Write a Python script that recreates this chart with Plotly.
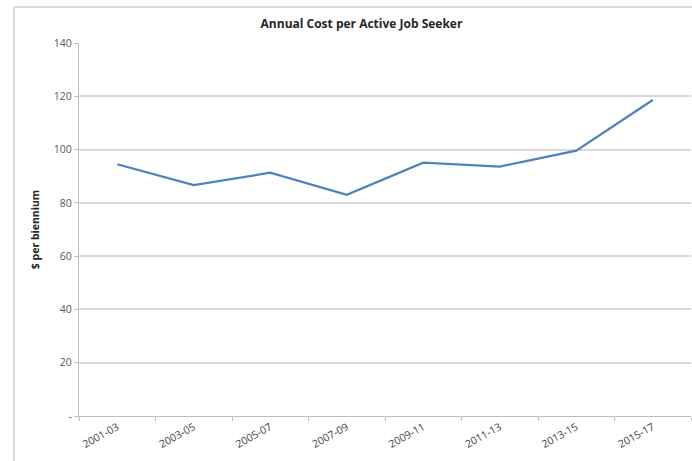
import plotly.graph_objects as go

categories = ["2001-03", "2003-05", "2005-07", "2007-09", "2009-11", "2011-13", "2013-15", "2015-17"]
values = [94.5, 86.7, 91.3, 83.0, 95.1, 93.6, 99.6, 118.6]
y_ticks = [0, 20, 40, 60, 80, 100, 120, 140]
y_tick_labels = ["-", "20", "40", "60", "80", "100", "120", "140"]

W, H = 692, 461
ml, mr, mt, mb = 79, 1, 43, 45
pw, ph = W - ml - mr, H - mt - mb

fig = go.Figure()
fig.add_trace(go.Scatter(
    x=categories, y=values, mode="lines",
    line=dict(color="#4F81BD", width=2.2),
    hoverinfo="skip", showlegend=False,
))

def px_x(p):
    return (p - ml) / pw

def px_y(p):
    return (H - mb - p) / ph

fig.update_layout(
    width=W, height=H,
    margin=dict(l=ml, r=mr, t=mt, b=mb),
    paper_bgcolor="white", plot_bgcolor="white",
    font=dict(family="Open Sans, Liberation Sans, sans-serif", color="#595959", size=10),
    title=dict(
        text="<b>Annual Cost per Active Job Seeker</b>",
        x=px_x(361.5), xanchor="center", xref="paper",
        y=1 - 24 / H, yanchor="middle",
        font=dict(size=12, color="#262626", family="Open Sans, Liberation Sans, sans-serif"),
    ),
    xaxis=dict(
        type="category", range=[-0.5, len(categories) - 0.5],
        tickson="boundaries", ticks="outside", ticklen=4, tickcolor="#bfbfbf",
        showline=True, linecolor="#bfbfbf", linewidth=1.2,
        showgrid=False, tickangle=-29, tickfont=dict(size=10.5, color="#404040"),
    ),
    yaxis=dict(
        range=[0, 140], tickmode="array", tickvals=y_ticks, ticktext=y_tick_labels,
        ticks="outside", ticklen=4, tickcolor="#bfbfbf",
        showline=True, linecolor="#bfbfbf", linewidth=1.2,
        showgrid=True, gridcolor="#d9d9d9", gridwidth=1.5,
        zeroline=False, tickfont=dict(size=10.5, color="#595959"),
        title=dict(text="<b>$ per biennium</b>", font=dict(size=10.5, color="#262626"), standoff=12),
    ),
    shapes=[
        dict(type="line", xref="paper", yref="paper", x0=px_x(14), x1=px_x(14), y0=px_y(7), y1=px_y(470),
             line=dict(color="#d0d0d0", width=1.5)),
        dict(type="line", xref="paper", yref="paper", x0=px_x(14), x1=px_x(700), y0=px_y(7), y1=px_y(7),
             line=dict(color="#d0d0d0", width=1.5)),
    ],
)

fig.write_html("out.html")
